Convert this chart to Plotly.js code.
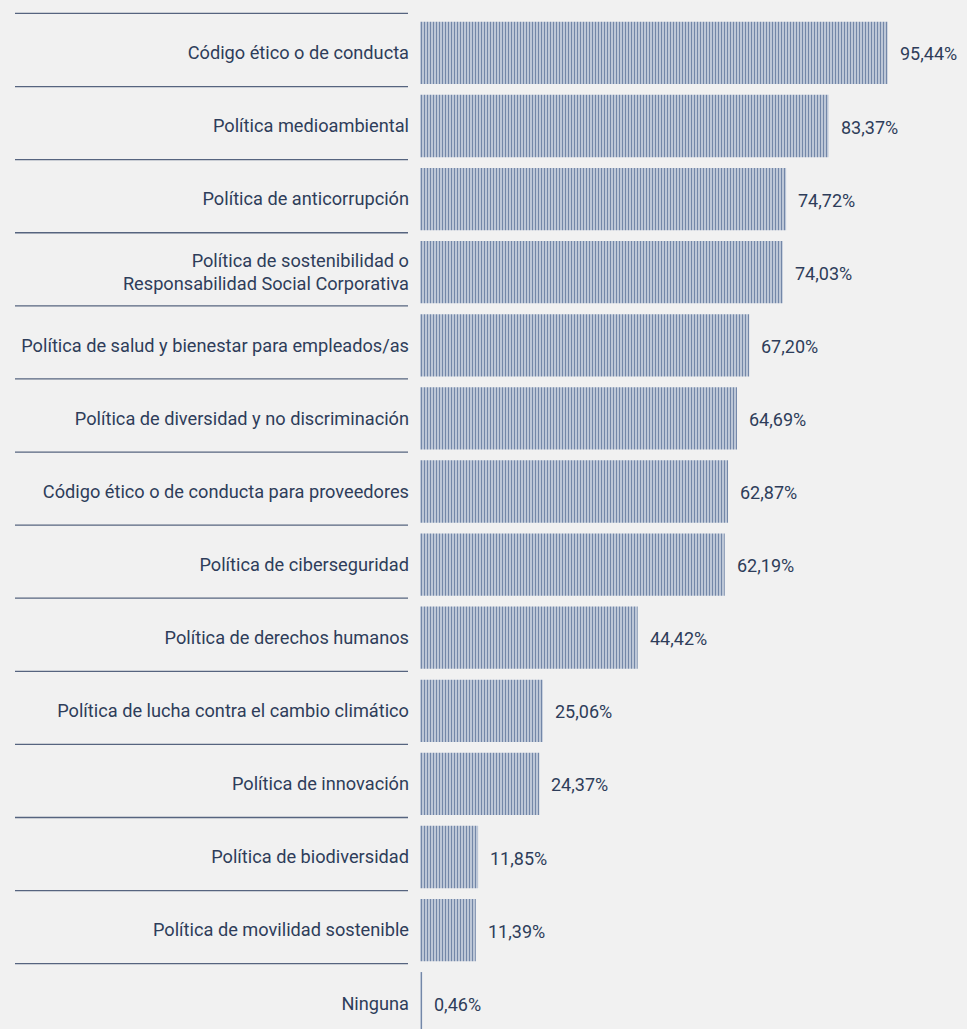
<!DOCTYPE html>
<html>
<head>
<meta charset="utf-8">
<script src="https://cdn.plot.ly/plotly-3.0.1.min.js"></script>
<style>
  html, body { margin: 0; padding: 0; background: #f1f1f1; }
  #chart { width: 967px; height: 1029px; }
</style>
</head>
<body>
<div id="chart"></div>
<script>
const categories = [
  "Código ético o de conducta",
  "Política medioambiental",
  "Política de anticorrupción",
  "Política de sostenibilidad o<br>Responsabilidad Social Corporativa",
  "Política de salud y bienestar para empleados/as",
  "Política de diversidad y no discriminación",
  "Código ético o de conducta para proveedores",
  "Política de ciberseguridad",
  "Política de derechos humanos",
  "Política de lucha contra el cambio climático",
  "Política de innovación",
  "Política de biodiversidad",
  "Política de movilidad sostenible",
  "Ninguna"
];
const values = [95.44, 83.37, 74.72, 74.03, 67.20, 64.69, 62.87, 62.19, 44.42, 25.06, 24.37, 11.85, 11.39, 0.46];

const textColor = '#2e3d5a';
const fontFamily = 'Roboto, "Open Sans", sans-serif';

const fmt = v => v.toFixed(2).replace('.', ',') + '%';

const trace = {
  type: 'bar',
  orientation: 'h',
  x: values,
  y: categories,
  width: 0.852,
  marker: {
    color: '#7387a8',
    line: { width: 0 },
    pattern: { shape: '|', size: 3, solidity: 0.5, bgcolor: '#d6dce7', fgcolor: '#7387a8' }
  },
  hoverinfo: 'skip'
};

const annotations = values.map((v, i) => ({
  x: v, y: categories[i], xref: 'x', yref: 'y',
  text: fmt(v), showarrow: false, xanchor: 'left', yanchor: 'middle',
  xshift: 10, yshift: -1, font: { family: fontFamily, size: 18, color: textColor }
}));

// separator lines between category labels
const L = 420, W = 547;
const shapes = categories.map((c, i) => ({
  type: 'line', xref: 'paper', yref: 'y',
  x0: (15 - L) / W, x1: (408 - L) / W,
  y0: i - 0.54, y1: i - 0.54,
  line: { color: '#56647f', width: 1.3 }
}));

const layout = {
  width: 967, height: 1029,
  margin: { l: L, r: 0, t: 0, b: 0 },
  paper_bgcolor: '#f1f1f1',
  plot_bgcolor: 'rgba(0,0,0,0)',
  showlegend: false,
  xaxis: { range: [0, W / 4.9], visible: false, fixedrange: true },
  yaxis: {
    type: 'category',
    range: [13.353, -0.7237],
    showgrid: false, zeroline: false, showline: false,
    ticks: '', ticklabelstandoff: 10,
    tickfont: { family: fontFamily, size: 18.2, color: textColor },
    fixedrange: true
  },
  annotations: annotations,
  shapes: shapes
};

Plotly.newPlot('chart', [trace], layout, { displayModeBar: false, staticPlot: true });
</script>
</body>
</html>
